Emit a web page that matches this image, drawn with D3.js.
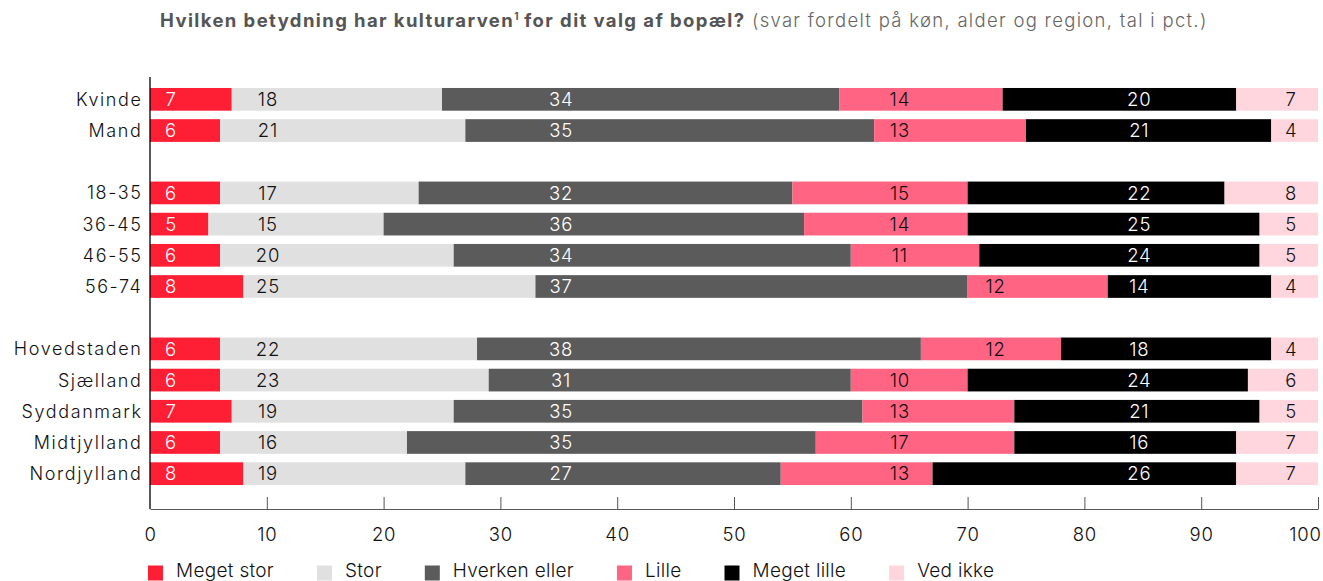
<!DOCTYPE html>
<html>
<head>
<meta charset="utf-8">
<script src="https://cdn.jsdelivr.net/npm/d3@7"></script>
<style>
  body { margin: 0; background: #fff; }
  svg text { font-family: "Inter", "Open Sans", sans-serif; }
</style>
</head>
<body>
<div id="chart"></div>
<script>
// categories, in three groups (a blank row goes between groups)
var genderRows = ["Kvinde", "Mand"];
var ageRows = ["18-35", "36-45", "46-55", "56-74"];
var regionRows = ["Hovedstaden", "Sjælland", "Syddanmark", "Midtjylland", "Nordjylland"];

var seriesNames = ["Meget stor", "Stor", "Hverken eller", "Lille", "Meget lille", "Ved ikke"];

// bar lengths per series, same order as the rows above
var megetStor   = [7, 6,  6, 5, 6, 8,  6, 6, 7, 6, 8];
var stor        = [18, 21,  17, 15, 20, 25,  22, 23, 19, 16, 19];
var hverken     = [34, 35,  32, 36, 34, 37,  38, 31, 35, 35, 27];
var lille       = [14, 13,  15, 14, 11, 12,  12, 10, 13, 17, 13];
var megetLille  = [20, 21,  22, 25, 24, 14,  18, 24, 21, 19, 26];
var vedIkke     = [7, 4,  8, 5, 5, 4,  4, 6, 5, 7, 7];
// the printed number differs from the bar length here in the original
var printedLabels = [{row: "Midtjylland", series: "Meget lille", text: "16"}];

var xTicks = [0, 10, 20, 30, 40, 50, 60, 70, 80, 90, 100];

var colors = ["#fe1f35", "#e0e0e0", "#5b5b5b", "#ff6482", "#000000", "#ffd6de"];
var textColors = ["#fff", "#111", "#fff", "#111", "#fff", "#111"];
// where each series puts its label (in percent units); next one is used if first is outside the segment
var labelAnchors = [[1.8], [10.1], [35.2], [64.2, 72.4], [84.7], [97.7]];

var W = 1323, H = 581;
var margin = {left: 150, right: 5};

var svg = d3.select("#chart").append("svg")
    .attr("width", W)
    .attr("height", H);

var allSeries = [megetStor, stor, hverken, lille, megetLille, vedIkke];
var rowNames = genderRows.concat(ageRows, regionRows);

// y domain with spacer keys between groups
var yKeys = genderRows.concat(["_gap1"], ageRows, ["_gap2"], regionRows);

var x = d3.scaleLinear()
    .domain([0, 100])
    .range([margin.left, W - margin.right]);

var y = d3.scaleBand()
    .domain(yKeys)
    .range([79.5, 493.5])
    .paddingInner(0.272)
    .paddingOuter(0.272);

var rows = rowNames.map(function(name, i) {
    var r = {name: name};
    seriesNames.forEach(function(s, j) { r[s] = allSeries[j][i]; });
    return r;
});

var stacked = d3.stack().keys(seriesNames)(rows);

function labelText(row, i) {
    var s = seriesNames[i];
    var o = printedLabels.filter(function(p) { return p.row === row.name && p.series === s; });
    return o.length ? o[0].text : row[s];
}

// title
var title = svg.append("text")
    .attr("x", 160)
    .attr("y", 27)
    .style("font-size", "18.5px")
    .style("fill", "#555");
title.append("tspan")
    .style("font-weight", "bold")
    .style("letter-spacing", "1.4px")
    .text("Hvilken betydning har kulturarven");
title.append("tspan")
    .style("font-weight", "bold")
    .style("font-size", "10px")
    .attr("dy", -7)
    .text("1");
title.append("tspan")
    .style("font-weight", "bold")
    .style("letter-spacing", "1.4px")
    .attr("dy", 7)
    .text(" for dit valg af bopæl?");
title.append("tspan")
    .style("fill", "#666")
    .style("font-weight", "300")
    .style("letter-spacing", "1.3px")
    .text(" (svar fordelt på køn, alder og region, tal i pct.)");

// bars
var layers = svg.selectAll(".layer")
    .data(stacked)
    .enter().append("g")
    .attr("class", "layer")
    .attr("fill", function(d, i) { return colors[i]; });

layers.selectAll("rect")
    .data(function(d) { return d; })
    .enter().append("rect")
    .attr("x", function(d) { return x(d[0]); })
    .attr("width", function(d) { return x(d[1]) - x(d[0]); })
    .attr("y", function(d) { return y(d.data.name); })
    .attr("height", y.bandwidth());

// value labels
layers.each(function(layer, i) {
    d3.select(this).selectAll("text")
        .data(layer)
        .enter().append("text")
        .attr("x", function(d) {
            var a = labelAnchors[i];
            for (var k = 0; k < a.length; k++) {
                if (a[k] > d[0] + 1 && a[k] < d[1] - 1) return x(a[k]);
            }
            return x((d[0] + d[1]) / 2);
        })
        .attr("y", function(d) { return y(d.data.name) + y.bandwidth() / 2; })
        .attr("dy", "0.36em")
        .attr("text-anchor", "middle")
        .style("font-size", "18.5px")
        .style("font-weight", "300")
        .style("letter-spacing", "0.8px")
        .style("fill", textColors[i])
        .text(function(d) { return labelText(d.data, i); });
});

// y labels
svg.selectAll(".ylab")
    .data(rowNames)
    .enter().append("text")
    .attr("class", "ylab")
    .attr("x", 142.5)
    .attr("y", function(d) { return y(d) + y.bandwidth() / 2; })
    .attr("dy", "0.36em")
    .attr("text-anchor", "end")
    .style("font-size", "18px")
    .style("font-weight", "300")
    .style("letter-spacing", "1.6px")
    .style("fill", "#111")
    .text(function(d) { return d; });

// y axis line
svg.append("line")
    .attr("x1", x(0)).attr("x2", x(0))
    .attr("y1", 77).attr("y2", 509)
    .attr("stroke", "#000")
    .attr("stroke-width", 1.3);

// x axis
var xAxis = d3.axisBottom(x)
    .tickValues(xTicks)
    .tickSizeInner(-12)
    .tickSizeOuter(0)
    .tickPadding(19);

var gx = svg.append("g")
    .attr("transform", "translate(0,509)")
    .call(xAxis);
gx.select(".domain").attr("stroke", "#555");
gx.selectAll(".tick line").attr("stroke", "#555");
gx.selectAll("text")
    .style("font-size", "18.5px")
    .style("font-family", "Inter, sans-serif")
    .style("font-weight", "300")
    .style("letter-spacing", "0.8px")
    .style("fill", "#111");
// keep the last label inside the picture
gx.selectAll(".tick text").filter(function(d) { return d === 100; })
    .attr("x", -13);

// legend
var legend = svg.append("g").attr("transform", "translate(148,565.5)");
var lx = 0;
seriesNames.forEach(function(s, i) {
    var g = legend.append("g").attr("transform", "translate(" + lx + ",0)");
    g.append("rect")
        .attr("width", 15).attr("height", 15)
        .attr("fill", colors[i]);
    var t = g.append("text")
        .attr("x", 28)
        .attr("y", 11.5)
        .style("font-size", "19px")
        .style("font-weight", "300")
        .style("letter-spacing", "0.3px")
        .style("fill", "#111")
        .text(s);
    lx += 28 + t.node().getComputedTextLength() + 43;
});
</script>
</body>
</html>
